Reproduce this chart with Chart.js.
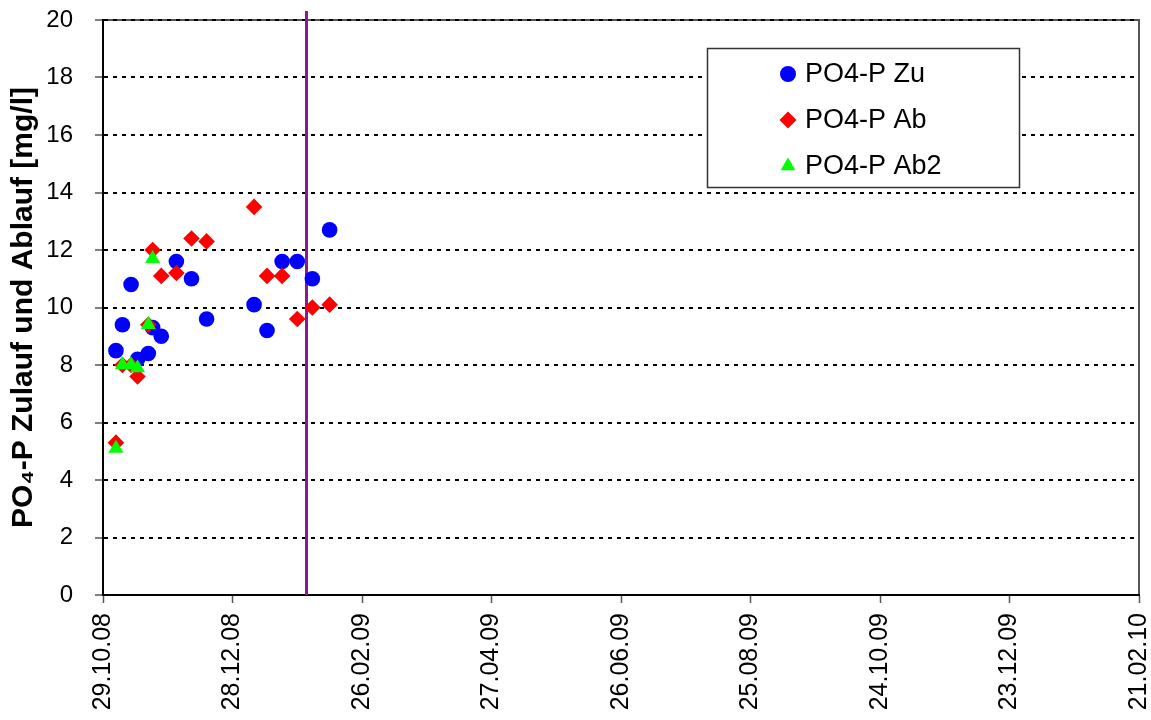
<!DOCTYPE html>
<html><head><meta charset="utf-8">
<script src="https://cdn.jsdelivr.net/npm/chart.js@4/dist/chart.umd.min.js"></script>
<style>html,body{margin:0;padding:0;background:#fff}#wrap{width:1151px;height:720px;position:relative}</style>
</head><body><div id="wrap"><canvas id="c" width="1151" height="720"></canvas></div>
<script>
// ---- data ----
const startDate = '2008-10-29';
const endDate = '2010-02-21';
const sampleDates = ['2008-11-04','2008-11-07','2008-11-11','2008-11-14','2008-11-19','2008-11-21','2008-11-25','2008-12-02','2008-12-09','2008-12-16','2009-01-07','2009-01-13','2009-01-20','2009-01-27','2009-02-03','2009-02-11'];
const zuValues  = [8.5, 9.4, 10.8, 8.2, 8.4, 9.3, 9.0, 11.6, 11.0, 9.6, 10.1, 9.2, 11.6, 11.6, 11.0, 12.7];
const abValues  = [5.3, 8.0, 8.0, 7.6, 9.4, 12.0, 11.1, 11.2, 12.4, 12.3, 13.5, 11.1, 11.1, 9.6, 10.0, 10.1];
const ab2Values = [5.1, 8.0, 8.0, 7.9, 9.4, 11.7, null, null, null, null, null, null, null, null, null, null];
const markerDate = '2009-01-31';
const xTickDates = ['2008-10-29','2008-12-28','2009-02-26','2009-04-27','2009-06-26','2009-08-25','2009-10-24','2009-12-23','2010-02-21'];
const yMin = 0, yMax = 20, yStep = 2;
const seriesLabels = ['PO4-P Zu', 'PO4-P Ab', 'PO4-P Ab2'];
const yTitle = 'PO\u2084-P Zulauf und Ablauf [mg/l]';

const DAY = 86400000;
const t0 = Date.parse(startDate);
function dayOf(s){ return (Date.parse(s) - t0) / DAY; }
function fmtDay(d){
  const t = new Date(t0 + Math.round(d) * DAY);
  const p = n => String(n).padStart(2,'0');
  return p(t.getUTCDate()) + '.' + p(t.getUTCMonth()+1) + '.' + p(t.getUTCFullYear() % 100);
}
function pts(vals){
  const out = [];
  vals.forEach((v,i) => { if (v !== null) out.push({x: dayOf(sampleDates[i]), y: v}); });
  return out;
}

const seriesStyles = [
  {color:'#0000FF', style:'circle', r:7.8},
  {color:'#FF0000', style:'rectRot', r:8.3},
  {color:'#00FF00', style:'triangle', r:8.7}
];

const FONT = "'Liberation Sans', Arial, sans-serif";

const frame = {
  id:'frame',
  beforeDraw(chart){
    const a = chart.chartArea, ctx = chart.ctx;
    ctx.save();
    ctx.strokeStyle = '#555'; ctx.lineWidth = 2;
    ctx.beginPath();
    ctx.moveTo(a.left, a.top); ctx.lineTo(a.right, a.top); ctx.lineTo(a.right, a.bottom);
    ctx.stroke();
    ctx.restore();
  },
  beforeDatasetsDraw(chart){
    const a = chart.chartArea, ctx = chart.ctx;
    const x = Math.round(chart.scales.x.getPixelForValue(dayOf(markerDate))) + 0.5;
    ctx.save();
    ctx.strokeStyle = '#8B1A8B'; ctx.lineWidth = 3;
    ctx.beginPath(); ctx.moveTo(x, a.top - 9); ctx.lineTo(x, a.bottom); ctx.stroke();
    ctx.restore();
  },
  afterDraw(chart){
    const ctx = chart.ctx;
    const lx = 707, ly = 48, lw = 312, lh = 139;
    ctx.save();
    ctx.fillStyle = '#fff'; ctx.fillRect(lx, ly, lw, lh);
    ctx.strokeStyle = '#333'; ctx.lineWidth = 1.5; ctx.strokeRect(lx + 0.5, ly + 0.5, lw, lh);
    const rows = [74, 120, 166];
    const legendR = [8, 8.5, 8.5];
    seriesLabels.forEach((lab, i) => {
      ctx.fillStyle = seriesStyles[i].color;
      Chart.helpers.drawPoint(ctx, {pointStyle: seriesStyles[i].style, radius: legendR[i], rotation: 0, borderWidth: 0}, 788, rows[i]);
      ctx.fillStyle = '#000';
      ctx.font = '27px ' + FONT;
      ctx.textBaseline = 'middle';
      ctx.textAlign = 'left';
      ctx.fillText(lab, 805, rows[i] + 1);
    });
    ctx.restore();
  }
};

const datasets = [zuValues, abValues, ab2Values].map((vals, i) => ({
  label: seriesLabels[i],
  data: pts(vals),
  pointStyle: seriesStyles[i].style,
  pointRadius: seriesStyles[i].r,
  pointHoverRadius: seriesStyles[i].r,
  backgroundColor: seriesStyles[i].color,
  borderColor: seriesStyles[i].color,
  pointBorderWidth: 0,
  showLine: false,
  order: 2 - i
}));

new Chart(document.getElementById('c'), {
  type: 'scatter',
  data: { datasets },
  plugins: [frame],
  options: {
    responsive: false,
    animation: false,
    devicePixelRatio: 1,
    layout: { padding: { top: 20, right: 12, left: 0, bottom: 0 } },
    plugins: { legend: { display: false }, tooltip: { enabled: false } },
    scales: {
      x: {
        type: 'linear',
        min: dayOf(startDate), max: dayOf(endDate),
        afterBuildTicks: s => { s.ticks = xTickDates.map(d => ({ value: dayOf(d) })); },
        afterFit: s => { s.height = 125; s.paddingLeft = 0; s.paddingRight = 0; },
        ticks: {
          callback: v => fmtDay(v),
          autoSkip: false, maxRotation: 90, minRotation: 90,
          font: { family: FONT, size: 25 }, color: '#000', padding: 10
        },
        grid: { drawOnChartArea: false, drawTicks: true, tickLength: 8, tickColor: '#555', tickWidth: 1.5 },
        border: { color: '#000', width: 2 }
      },
      y: {
        min: yMin, max: yMax,
        afterFit: s => { s.width = 103; s.paddingTop = 0; s.paddingBottom = 0; },
        ticks: { stepSize: yStep, font: { family: FONT, size: 24 }, color: '#000', padding: 22 },
        grid: { color: '#000', lineWidth: 2, drawTicks: true, tickLength: 8, tickColor: '#555', tickWidth: 1.5 },
        border: { color: '#000', width: 2, dash: [4, 5] },
        title: { display: true, text: yTitle, color: '#000', font: { family: FONT, size: 30, weight: 'bold' }, padding: { top: 6, bottom: 0 } }
      }
    }
  }
});
</script>
</body></html>
